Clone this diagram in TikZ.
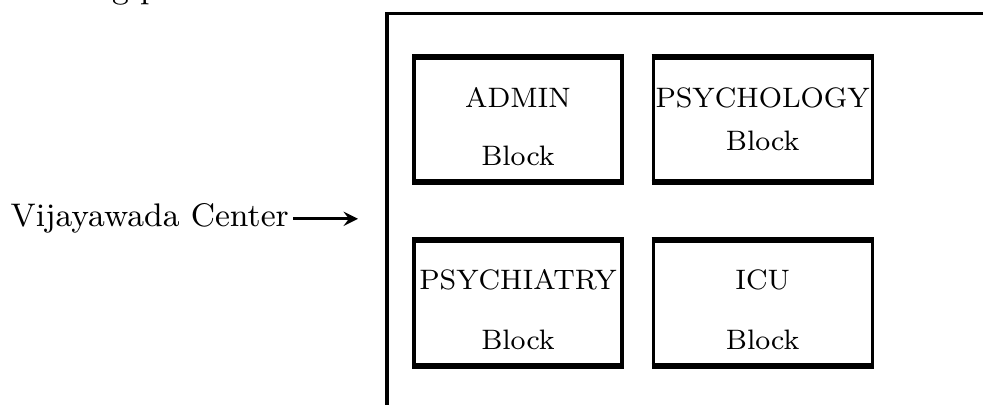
\documentclass[tikz,border=0pt]{standalone}
\usetikzlibrary{positioning}
\tikzset{
  blockbox/.style={draw, line width=0.9pt, minimum width=2.08cm, minimum height=1.23cm, inner sep=0pt},
  widebox/.style={blockbox, minimum width=2.19cm},
  blocktext/.style={font=\fontsize{8}{10}\selectfont, inner sep=0pt},
  plaintext/.style={font=\fontsize{9.3}{11}\selectfont, inner sep=1pt}
}
\begin{document}
\begin{tikzpicture}
  \useasboundingbox (0,0) rectangle (9.83,-4.05);
  \clip (0,0) rectangle (9.83,-4.05);
  % last line of the text above, cut off
  \node[plaintext, anchor=base west] (intro) at (-0.06,0.015) {following parameters in mind :};
  % outline of the centre
  \draw[line width=0.9pt] (3.87,-4.3) |- (10.1,-0.135);
  % the four blocks
  \node[blockbox] (admin) at (5.18,-1.195) {};
  \node[widebox, right=0.28cm of admin] (psychology) {};
  \node[blockbox, below=0.57cm of admin] (psychiatry) {};
  \node[widebox, below=0.57cm of psychology] (icu) {};
  \foreach \b in {admin,psychology,psychiatry,icu}
    \draw[line width=1.6pt] (\b.north west) -- (\b.north east) (\b.south west) -- (\b.south east);
  \node[blocktext] (admintitle) at ([yshift=-0.41cm]admin.north) {ADMIN};
  \node[blocktext] (adminname) at ([yshift=-0.99cm]admin.north) {Block};
  \node[blocktext] (psychologytitle) at ([yshift=-0.41cm]psychology.north) {PSYCHOLOGY};
  \node[blocktext] (psychologyname) at ([yshift=-0.84cm]psychology.north) {Block};
  \node[blocktext] (psychiatrytitle) at ([yshift=-0.40cm]psychiatry.north) {PSYCHIATRY};
  \node[blocktext] (psychiatryname) at ([yshift=-1.00cm]psychiatry.north) {Block};
  \node[blocktext] (icutitle) at ([yshift=-0.40cm]icu.north) {ICU};
  \node[blocktext] (icuname) at ([yshift=-1.00cm]icu.north) {Block};
  % where the centre is
  \node[plaintext, anchor=base west] (vc) at (0.065,-2.27) {Vijayawada Center};
  \coordinate (vcend) at (3.58,-2.20);
  \draw[->,>=stealth, line width=0.8pt] (vc.east) -- (vc.east -| vcend);
\end{tikzpicture}
\end{document}
